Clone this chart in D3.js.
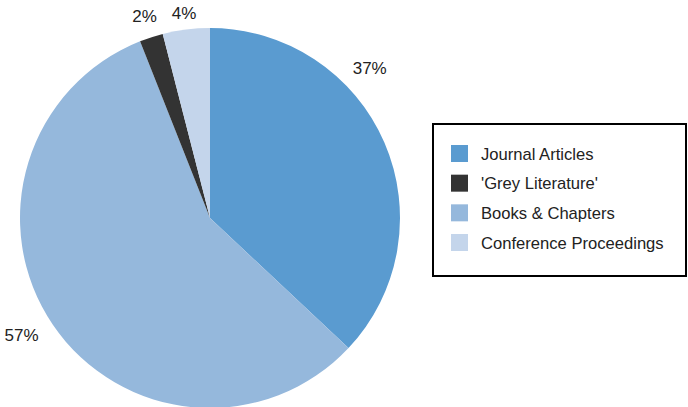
<!DOCTYPE html>
<html>
<head>
<meta charset="utf-8">
<script src="https://cdn.jsdelivr.net/npm/d3@7"></script>
<style>
  html, body { margin: 0; padding: 0; background: #fff; }
  svg { display: block; }
  text { font-family: "Liberation Sans", Arial, sans-serif; }
</style>
</head>
<body>
<svg id="chart" width="688" height="407"></svg>
<script>
// Data (pie order, clockwise from 12 o'clock)
const categories = ["Journal Articles", "Books & Chapters", "'Grey Literature'", "Conference Proceedings"];
const values = [37, 57, 2, 4];
const colors = ["#5a9bd0", "#95b8dc", "#333333", "#c4d5eb"];
const legendOrder = ["Journal Articles", "'Grey Literature'", "Books & Chapters", "Conference Proceedings"];

const svg = d3.select("#chart");
const cx = 210, cy = 218, R = 190;

const color = d3.scaleOrdinal().domain(categories).range(colors);
const data = categories.map((c, i) => ({ cat: c, value: values[i] }));

const pie = d3.pie().value(d => d.value).sort(null);
const arcs = pie(data);
const arc = d3.arc().innerRadius(0).outerRadius(R);

const g = svg.append("g").attr("transform", `translate(${cx},${cy})`);
g.selectAll("path").data(arcs).join("path")
  .attr("d", arc)
  .attr("fill", d => color(d.data.cat));

// Labels
const fmt = d3.format(".0f");
const total = d3.sum(values);
const labelAngleShift = { "Journal Articles": -0.345, "Books & Chapters": 0.04 };
const labelRadius = { "Journal Articles": 219, "Books & Chapters": 222, "'Grey Literature'": 212, "Conference Proceedings": 207 };
g.selectAll("text.lbl").data(arcs).join("text")
  .attr("class", "lbl")
  .attr("text-anchor", "middle")
  .attr("dy", "0.35em")
  .attr("font-size", 17)
  .attr("fill", "#222")
  .attr("x", d => {
    const a = (d.startAngle + d.endAngle) / 2 + (labelAngleShift[d.data.cat] || 0);
    return Math.sin(a) * labelRadius[d.data.cat];
  })
  .attr("y", d => {
    const a = (d.startAngle + d.endAngle) / 2 + (labelAngleShift[d.data.cat] || 0);
    return -Math.cos(a) * labelRadius[d.data.cat];
  })
  .text(d => fmt(d.value / total * 100) + "%");

// Legend
const lg = svg.append("g");
lg.append("rect")
  .attr("x", 433).attr("y", 124).attr("width", 253).attr("height", 152)
  .attr("fill", "#fff").attr("stroke", "#000").attr("stroke-width", 2);

const rowY = d3.scalePoint().domain(legendOrder).range([145, 234]);
const rows = lg.selectAll("g.row").data(legendOrder).join("g")
  .attr("class", "row")
  .attr("transform", d => `translate(451,${rowY(d)})`);
rows.append("rect").attr("width", 17).attr("height", 17).attr("fill", d => color(d));
rows.append("text")
  .attr("x", 30).attr("y", 14.5)
  .attr("font-size", 16.6)
  .attr("fill", "#222")
  .text(d => d);
</script>
</body>
</html>
